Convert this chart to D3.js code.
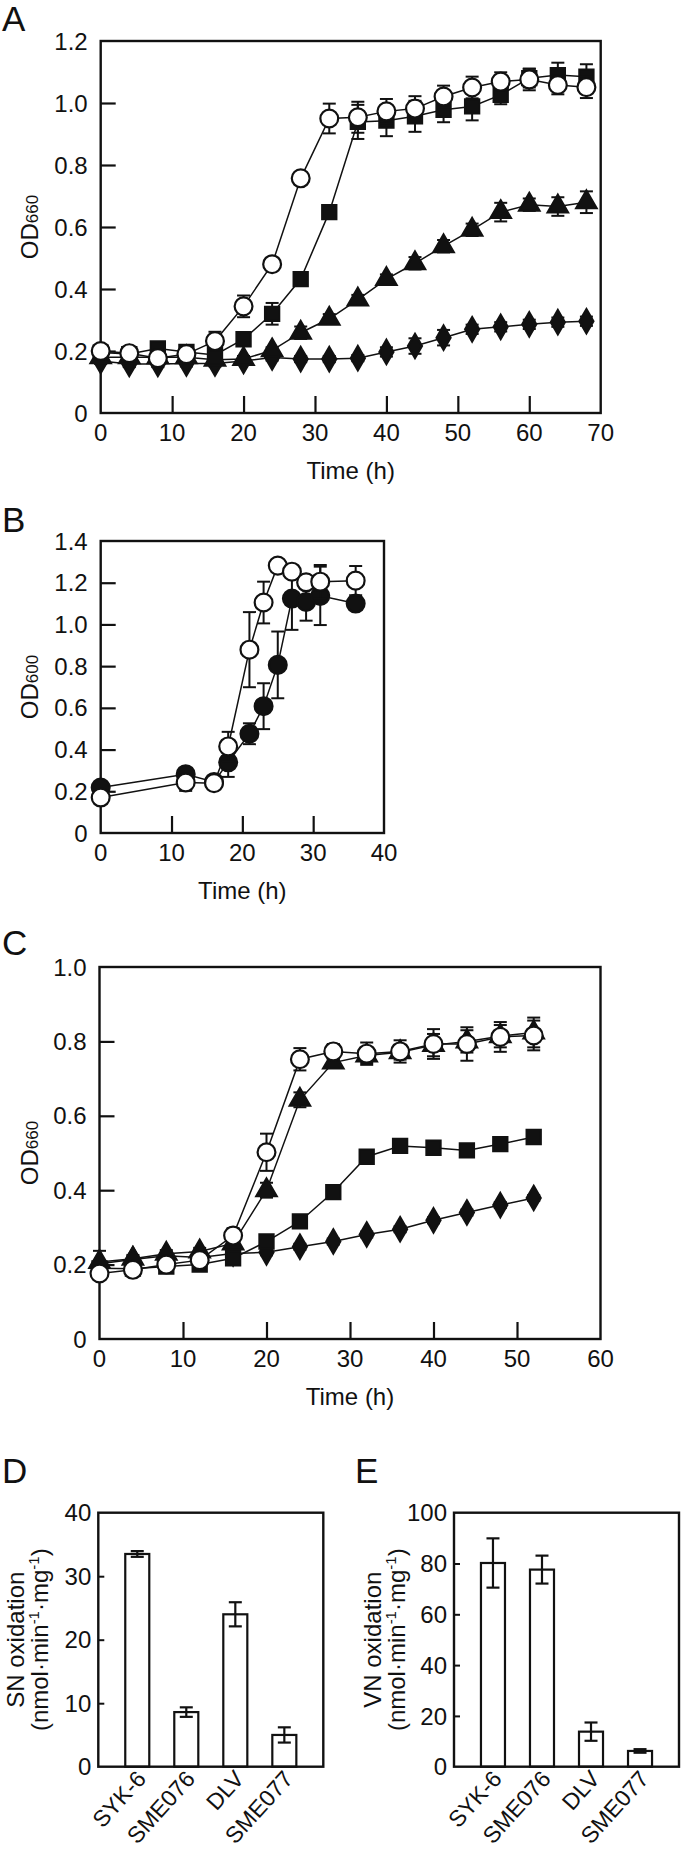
<!DOCTYPE html>
<html><head><meta charset="utf-8">
<script src="https://cdn.jsdelivr.net/npm/d3@7"></script>
<style>
body{margin:0;background:#fff}
svg{display:block}
text{font-family:"Liberation Sans",Arial,Helvetica,sans-serif;fill:#111}
.letter{font-size:35px}
</style>
</head><body>
<svg id="chart" width="685" height="1856"></svg>
<script>
// ---------- Panel A data ----------
const timeA = [0,4,8,12,16,20,24,28,32,36,40,44,48,52,56,60,64,68];
const aCircle = [0.200,0.193,0.177,0.190,0.232,0.344,0.480,0.757,0.950,0.954,0.973,0.982,1.021,1.050,1.069,1.076,1.058,1.051];
const aCircleErr = [0.01,0.01,0.01,0.01,0.03,0.035,0.01,0.01,0.048,0.05,0.04,0.04,0.035,0.035,0.03,0.035,0.03,0.035];
const aSquare = [0.195,0.190,0.208,0.197,0.187,0.238,0.320,0.432,0.648,0.939,0.943,0.957,0.978,0.989,1.026,1.080,1.090,1.085];
const aSquareErr = [0.01,0.01,0.01,0.01,0.01,0.02,0.035,0.02,0.02,0.055,0.05,0.05,0.04,0.045,0.03,0.03,0.04,0.04];
const aTriangle = [0.180,0.180,0.180,0.180,0.172,0.174,0.202,0.259,0.304,0.366,0.432,0.483,0.538,0.591,0.648,0.672,0.666,0.680];
const aTriangleErr = [0.01,0.01,0.01,0.01,0.01,0.01,0.01,0.02,0.015,0.015,0.015,0.02,0.02,0.02,0.03,0.02,0.03,0.035];
const aDiamond = [0.168,0.158,0.158,0.160,0.160,0.168,0.179,0.174,0.174,0.177,0.197,0.216,0.243,0.270,0.278,0.286,0.293,0.296];
const aDiamondErr = [0.01,0.01,0.01,0.01,0.01,0.01,0.01,0.01,0.01,0.01,0.015,0.025,0.025,0.015,0.015,0.015,0.015,0.015];
const ticksA_x = [0,10,20,30,40,50,60,70];
const ticksA_y = [0,0.2,0.4,0.6,0.8,1.0,1.2];

// ---------- Panel B data ----------
const timeB = [0,12,16,18,21,23,25,27,29,31,36];
const bOpen = [0.170,0.242,0.239,0.415,0.879,1.105,1.282,1.253,1.202,1.205,1.210];
const bOpenErr = [0.01,0.04,0.01,0.07,0.18,0.10,0.01,0.01,0.02,0.08,0.07];
const bFilled = [0.218,0.282,0.245,0.339,0.476,0.608,0.806,1.124,1.108,1.137,1.100];
const bFilledErr = [0.01,0.01,0.01,0.07,0.05,0.11,0.16,0.15,0.09,0.14,0.01];
const ticksB_x = [0,10,20,30,40];
const ticksB_y = [0,0.2,0.4,0.6,0.8,1.0,1.2,1.4];

// ---------- Panel C data ----------
const timeC = [0,4,8,12,16,20,24,28,32,36,40,44,48,52];
const cCircle = [0.176,0.186,0.200,0.212,0.278,0.502,0.752,0.773,0.767,0.773,0.793,0.793,0.812,0.816];
const cCircleErr = [0.01,0.01,0.01,0.01,0.02,0.05,0.03,0.02,0.03,0.03,0.04,0.045,0.04,0.04];
const cTriangle = [0.207,0.216,0.229,0.235,0.257,0.400,0.643,0.743,0.762,0.771,0.790,0.800,0.814,0.824];
const cTriangleErr = [0.03,0.01,0.01,0.01,0.01,0.02,0.02,0.01,0.02,0.02,0.03,0.03,0.03,0.04];
const cSquare = [0.190,0.189,0.195,0.200,0.217,0.262,0.316,0.395,0.490,0.519,0.514,0.507,0.524,0.543];
const cSquareErr = [0.005,0.005,0.005,0.005,0.005,0.005,0.005,0.005,0.005,0.005,0.005,0.005,0.005,0.005];
const cDiamond = [0.202,0.214,0.224,0.219,0.230,0.233,0.248,0.262,0.281,0.295,0.319,0.340,0.360,0.379];
const cDiamondErr = [0.008,0.008,0.008,0.008,0.008,0.008,0.008,0.008,0.008,0.008,0.008,0.008,0.008,0.008];
const ticksC_x = [0,10,20,30,40,50,60];
const ticksC_y = [0,0.2,0.4,0.6,0.8,1.0];

// ---------- Panels D / E data ----------
const strains = ["SYK-6","SME076","DLV","SME077"];
const snOxidation = [33.5,8.6,24.0,5.0];
const snErr = [0.45,0.75,1.9,1.2];
const vnOxidation = [80.2,77.6,13.8,6.2];
const vnErr = [9.7,5.5,3.6,0.7];
const ticksD_y = [0,10,20,30,40];
const ticksE_y = [0,20,40,60,80,100];

// ---------------------------------------------------------
const svg = d3.select("#chart");
const FS = 24;

function fmtOD(d){ return d === 0 ? "0" : d.toFixed(1); }

function frame(g, b){
  g.append("rect").attr("x", b.x0).attr("y", b.y0)
    .attr("width", b.x1 - b.x0).attr("height", b.y1 - b.y0)
    .attr("fill","none").attr("stroke","#111").attr("stroke-width",2.4);
}

function linePanel(cfg){
  const b = cfg.box;
  const g = svg.append("g");
  const x = d3.scaleLinear().domain(cfg.xDomain).range([b.x0, b.x1]);
  const y = d3.scaleLinear().domain(cfg.yDomain).range([b.y1, b.y0]);

  const yAxis = d3.axisRight(y).tickValues(cfg.yTicks.filter(t => t > cfg.yDomain[0] && t < cfg.yDomain[1]))
    .tickSize(15).tickFormat("");
  g.append("g").attr("transform",`translate(${b.x0},0)`).call(yAxis)
    .call(s => s.select(".domain").remove())
    .call(s => s.selectAll("line").attr("stroke","#111").attr("stroke-width",2.2));
  const xAxis = d3.axisTop(x).tickValues(cfg.xTicks.filter(t => t > cfg.xDomain[0] && t < cfg.xDomain[1]))
    .tickSize(17).tickFormat("");
  g.append("g").attr("transform",`translate(0,${b.y1})`).call(xAxis)
    .call(s => s.select(".domain").remove())
    .call(s => s.selectAll("line").attr("stroke","#111").attr("stroke-width",2.2));

  g.selectAll(".yl").data(cfg.yTicks).join("text")
    .attr("x", b.x0 - 13).attr("y", d => y(d)).attr("dy","0.36em")
    .attr("text-anchor","end").attr("font-size",FS).text(fmtOD);
  g.selectAll(".xl").data(cfg.xTicks).join("text")
    .attr("x", d => x(d)).attr("y", b.y1 + 28)
    .attr("text-anchor","middle").attr("font-size",FS).text(d => d);

  frame(g, b);

  g.append("text").attr("x",(b.x0+b.x1)/2).attr("y", b.y1 + 66)
    .attr("text-anchor","middle").attr("font-size",FS).text("Time (h)");
  const yl = g.append("text").attr("text-anchor","middle").attr("font-size",FS)
    .attr("transform",`translate(38,${(b.y0+b.y1)/2}) rotate(-90)`);
  yl.append("tspan").text("OD");
  yl.append("tspan").attr("font-size",17).text(cfg.ySub);
  g.append("text").attr("class","letter").attr("x",2).attr("y",cfg.letterY).text(cfg.letter);

  const layer = g.append("g");
  cfg.series.forEach(s => {
    const pts = s.t.map((t,i) => [t, s.v[i]]);
    layer.append("path").datum(pts)
      .attr("d", d3.line().x(d => x(d[0])).y(d => y(d[1])))
      .attr("fill","none").attr("stroke","#111").attr("stroke-width",1.5);
  });
  cfg.series.forEach(s => {
    const pts = s.t.map((t,i) => ({t, v:s.v[i], e:s.e[i]}));
    const eb = layer.append("g").attr("stroke","#111").attr("stroke-width",2);
    pts.forEach(p => {
      const xx = x(p.t), ya = y(p.v + p.e), yb = y(p.v - p.e);
      eb.append("line").attr("x1",xx).attr("x2",xx).attr("y1",ya).attr("y2",yb);
      eb.append("line").attr("x1",xx-6.5).attr("x2",xx+6.5).attr("y1",ya).attr("y2",ya);
      eb.append("line").attr("x1",xx-6.5).attr("x2",xx+6.5).attr("y1",yb).attr("y2",yb);
    });
    layer.append("g").selectAll("path").data(pts).join("path")
      .attr("transform", p => `translate(${x(p.t)},${y(p.v)})`)
      .attr("d", d3.symbol().type(s.sym).size(s.size))
      .attr("fill", s.fill ? "#111" : "#fff")
      .attr("stroke","#111").attr("stroke-width",2.2);
  });
}

linePanel({
  box:{x0:100.7,x1:600.7,y0:41,y1:413}, xDomain:[0,70], yDomain:[0,1.2],
  xTicks:ticksA_x, yTicks:ticksA_y, ySub:"660", letter:"A", letterY:31,
  series:[
    {t:timeA, v:aDiamond, e:aDiamondErr, sym:d3.symbolDiamond, size:170, fill:true},
    {t:timeA, v:aTriangle, e:aTriangleErr, sym:d3.symbolTriangle, size:180, fill:true},
    {t:timeA, v:aSquare, e:aSquareErr, sym:d3.symbolSquare, size:200, fill:true},
    {t:timeA, v:aCircle, e:aCircleErr, sym:d3.symbolCircle, size:250, fill:false}
  ]
});

linePanel({
  box:{x0:100.7,x1:384,y0:541,y1:833}, xDomain:[0,40], yDomain:[0,1.4],
  xTicks:ticksB_x, yTicks:ticksB_y, ySub:"600", letter:"B", letterY:532,
  series:[
    {t:timeB, v:bFilled, e:bFilledErr, sym:d3.symbolCircle, size:250, fill:true},
    {t:timeB, v:bOpen, e:bOpenErr, sym:d3.symbolCircle, size:250, fill:false}
  ]
});

linePanel({
  box:{x0:99.5,x1:600.5,y0:967,y1:1339}, xDomain:[0,60], yDomain:[0,1.0],
  xTicks:ticksC_x, yTicks:ticksC_y, ySub:"660", letter:"C", letterY:955,
  series:[
    {t:timeC, v:cDiamond, e:cDiamondErr, sym:d3.symbolDiamond, size:170, fill:true},
    {t:timeC, v:cSquare, e:cSquareErr, sym:d3.symbolSquare, size:200, fill:true},
    {t:timeC, v:cTriangle, e:cTriangleErr, sym:d3.symbolTriangle, size:180, fill:true},
    {t:timeC, v:cCircle, e:cCircleErr, sym:d3.symbolCircle, size:250, fill:false}
  ]
});

function barPanel(cfg){
  const b = cfg.box;
  const g = svg.append("g");
  const x = d3.scaleBand().domain(strains).range([b.x0,b.x1]).paddingInner(0.51).paddingOuter(0.55);
  const y = d3.scaleLinear().domain(cfg.yDomain).range([b.y1,b.y0]);
  const yAxis = d3.axisRight(y).tickValues(cfg.yTicks.filter(t => t > cfg.yDomain[0] && t < cfg.yDomain[1]))
    .tickSize(6).tickFormat("");
  g.append("g").attr("transform",`translate(${b.x0},0)`).call(yAxis)
    .call(s => s.select(".domain").remove())
    .call(s => s.selectAll("line").attr("stroke","#111").attr("stroke-width",2));
  g.selectAll(".yl").data(cfg.yTicks).join("text")
    .attr("x", b.x0 - 7).attr("y", d => y(d)).attr("dy","0.36em")
    .attr("text-anchor","end").attr("font-size",FS).text(d => d);

  g.selectAll(".bar").data(cfg.values).join("rect")
    .attr("x",(d,i) => x(strains[i])).attr("width", x.bandwidth())
    .attr("y", d => y(d)).attr("height", d => y(0) - y(d))
    .attr("fill","#fff").attr("stroke","#111").attr("stroke-width",2.2);
  const eb = g.append("g").attr("stroke","#111").attr("stroke-width",2.2);
  cfg.values.forEach((v,i) => {
    const cx = x(strains[i]) + x.bandwidth()/2, ya = y(v + cfg.errs[i]), yb = y(v - cfg.errs[i]);
    eb.append("line").attr("x1",cx).attr("x2",cx).attr("y1",ya).attr("y2",yb);
    eb.append("line").attr("x1",cx-6.5).attr("x2",cx+6.5).attr("y1",ya).attr("y2",ya);
    eb.append("line").attr("x1",cx-6.5).attr("x2",cx+6.5).attr("y1",yb).attr("y2",yb);
  });
  frame(g, b);

  g.selectAll(".cl").data(strains).join("text")
    .attr("text-anchor","end").attr("font-size",23)
    .attr("transform", d => `translate(${x(d) + x.bandwidth()/2 + 10},${b.y1 + 13}) rotate(-48)`)
    .text(d => d);

  const cy = (b.y0 + b.y1)/2;
  g.append("text").attr("text-anchor","middle").attr("font-size",FS)
    .attr("transform",`translate(${cfg.labelX},${cy}) rotate(-90)`).text(cfg.title);
  const t2 = g.append("text").attr("text-anchor","middle").attr("font-size",FS)
    .attr("transform",`translate(${cfg.labelX + 24},${cy}) rotate(-90)`);
  t2.append("tspan").text("(nmol\u00B7min");
  t2.append("tspan").attr("font-size",15).attr("dy",-9).text("-1");
  t2.append("tspan").attr("dy",9).text("\u00B7mg");
  t2.append("tspan").attr("font-size",15).attr("dy",-9).text("-1");
  t2.append("tspan").attr("dy",9).text(")");
  g.append("text").attr("class","letter").attr("x",cfg.letterX).attr("y",1483).text(cfg.letter);
}

barPanel({box:{x0:98.3,x1:323.3,y0:1512.7,y1:1766.7}, yDomain:[0,40], yTicks:ticksD_y,
  values:snOxidation, errs:snErr, title:"SN oxidation", labelX:24, letter:"D", letterX:2});
barPanel({box:{x0:454,x1:679,y0:1512.7,y1:1766.7}, yDomain:[0,100], yTicks:ticksE_y,
  values:vnOxidation, errs:vnErr, title:"VN oxidation", labelX:381, letter:"E", letterX:355});
</script>
</body></html>
